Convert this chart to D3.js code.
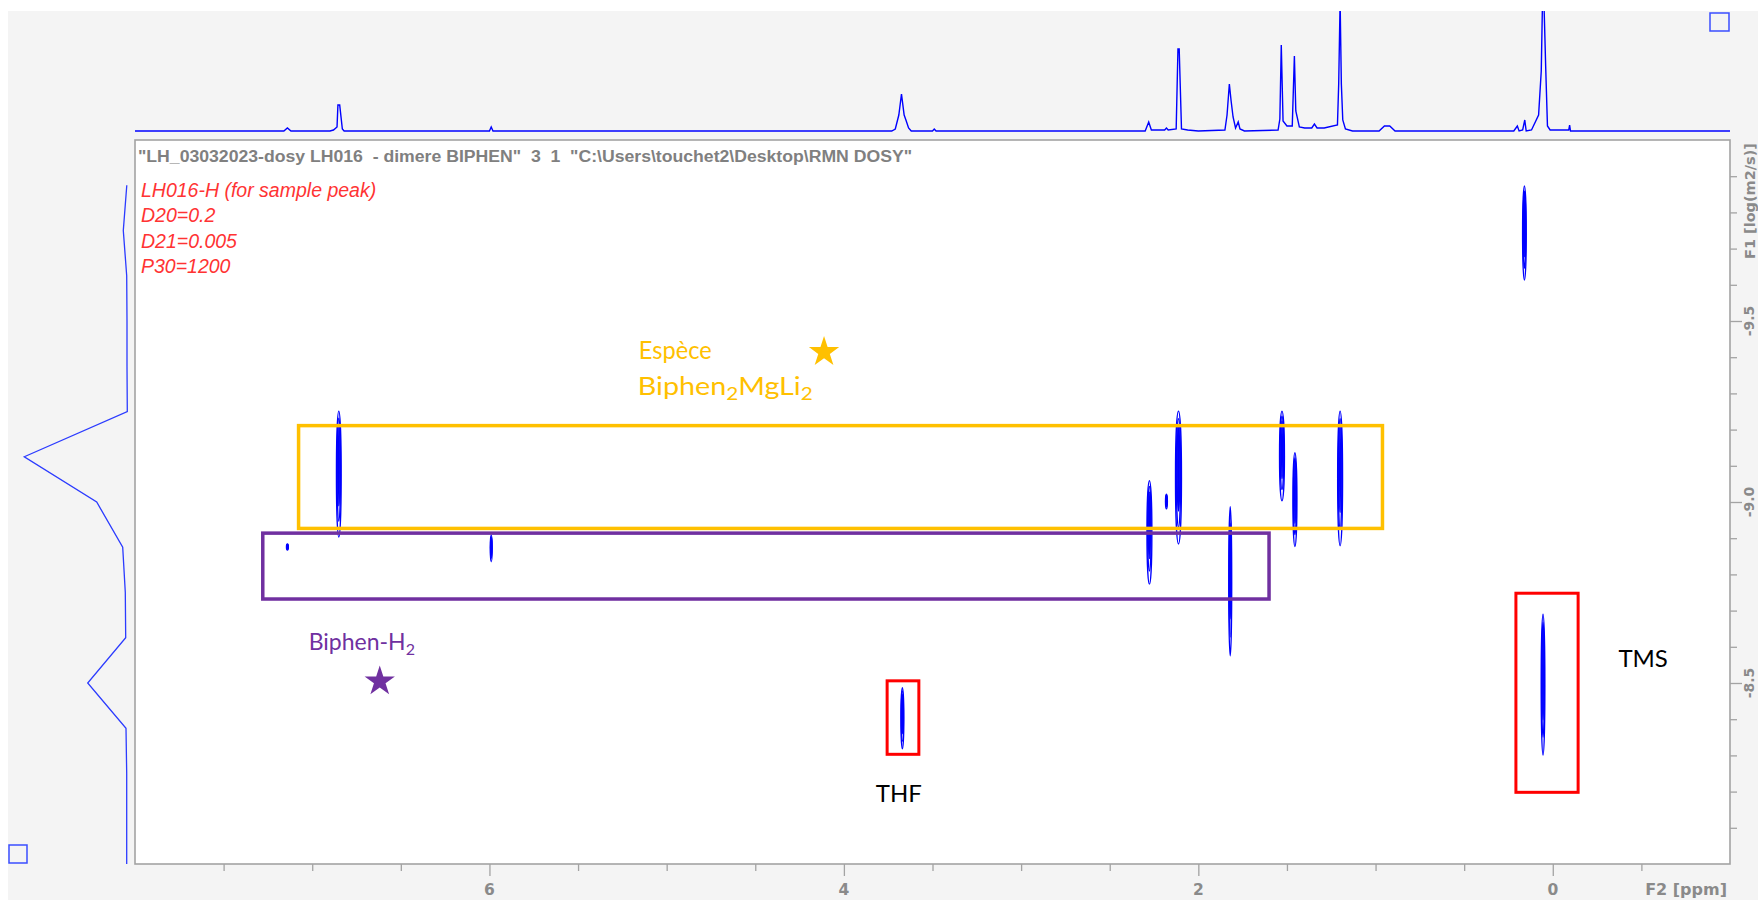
<!DOCTYPE html>
<html>
<head>
<meta charset="utf-8">
<script src="https://cdn.jsdelivr.net/npm/d3@7"></script>
<style>
  body { margin: 0; background: #ffffff; }
  svg { display: block; }
</style>
</head>
<body>
<svg id="chart" width="1758" height="900"></svg>
<script>
// ---------- axes ----------
const f2Domain = [8, -1];            // chemical shift, ppm (reversed)
const f1Domain = [-10, -8];          // log D, log(m2/s)
const f2TickValues = [7.5, 7, 6.5, 6, 5.5, 5, 4.5, 4, 3.5, 3, 2.5, 2, 1.5, 1, 0.5, 0, -0.5];
const f2LabelValues = [6, 4, 2, 0];
const f1TickValues = [-9.9, -9.8, -9.7, -9.6, -9.5, -9.4, -9.3, -9.2, -9.1, -9.0,
                      -8.9, -8.8, -8.7, -8.6, -8.5, -8.4, -8.3, -8.2, -8.1];
const f1LabelValues = [-9.5, -9.0, -8.5];
const f1LabelText = ["-9.5", "-9.0", "-8.5"];

// ---------- 1H projection (top trace) ----------
const protonPpm = [
  8.0, 7.16, 7.14, 7.12, 6.90, 6.88, 6.86, 6.855, 6.845, 6.83, 6.82,
  6.00, 5.99, 5.98,
  3.73, 3.71, 3.69, 3.675, 3.66, 3.65, 3.635, 3.62, 3.50, 3.49, 3.48,
  2.30, 2.28, 2.265, 2.19, 2.18, 2.17, 2.125, 2.115, 2.108, 2.095, 2.06, 2.00,
  1.85, 1.838, 1.825, 1.815, 1.804, 1.79, 1.775, 1.765, 1.74,
  1.55, 1.54, 1.532, 1.522, 1.50, 1.47, 1.458, 1.45, 1.43, 1.40, 1.36, 1.345, 1.33, 1.29,
  1.215, 1.208, 1.200, 1.193, 1.185, 1.17, 1.13,
  0.98, 0.95, 0.92, 0.89,
  0.22, 0.20, 0.19, 0.17, 0.158, 0.15, 0.12, 0.08, 0.065, 0.058, 0.05, 0.04, 0.03, 0.015, 0.0,
  -0.09, -0.095, -0.10, -1.0
];
const protonIntensity = [
  0, 0, 3, 0, 0, 1, 4, 26, 26, 2, 0,
  0, 4, 0,
  0, 2, 16, 37, 16, 11, 3, 0, 0, 2, 0,
  0, 9, 1, 1, 3, 1, 2, 82, 82, 2, 1, 0,
  1, 16, 47, 30, 14, 3, 9, 2, 0,
  1, 12, 86, 10, 5, 5, 75, 20, 4, 3, 3, 7, 3, 3,
  6, 47, 130, 47, 11, 2, 0,
  0, 5, 5, 0,
  0, 5, 0, 1, 11, 0, 1, 16, 60, 130, 130, 64, 5, 1, 1,
  1, 6, 0, 0
];

// ---------- diffusion projection (left trace) ----------
const diffLogD = [-9.875, -9.75, -9.625, -9.5, -9.375, -9.25, -9.125, -9.0,
                  -8.875, -8.75, -8.625, -8.5, -8.375, -8.25, -8.125, -8.0];
const diffIntensity = [0.5, 4, 0.6, 0.3, 0.3, 0, 103, 30.6,
                       4.6, 2, 1.6, 39.6, 1.3, 0.6, 0.6, 0.6];

// ---------- DOSY cross peaks ----------
const peakPpm        = [6.850, 0.160, 2.112, 2.276, 2.180, 1.820, 1.528, 1.455, 1.200, 0.055, 3.670, 5.990, 7.140];
const peakLogDTop    = [-9.251, -9.873, -9.251, -9.059, -9.022, -8.987, -9.251, -9.136, -9.251, -8.690, -8.487, -8.909, -8.884];
const peakLogDBottom = [-8.903, -9.613, -8.884, -8.773, -8.981, -8.575, -9.003, -8.877, -8.879, -8.301, -8.318, -8.835, -8.867];
const peakWidthPpm   = [0.027, 0.021, 0.034, 0.028, 0.011, 0.017, 0.028, 0.023, 0.028, 0.021, 0.017, 0.011, 0.011];
const contourLevels  = [1, 0.72, 0.45];

// ---------- annotations ----------
const boxNames   = ["Biphen2MgLi2", "BiphenH2", "THF", "TMS"];
const boxPpmFrom = [7.077, 7.279, 3.756, 0.208];
const boxPpmTo   = [0.961, 1.601, 3.577, -0.143];
const boxLogDTop = [-9.211, -8.914, -8.506, -8.748];
const boxLogDBot = [-8.927, -8.732, -8.303, -8.198];
const boxColors  = ["#FFC000", "#7030A0", "#FF0000", "#FF0000"];
const boxStroke  = [3.5, 3.5, 3, 3];

const starPpm    = [4.112, 6.619];
const starLogD   = [-9.417, -8.507];
const starColors = ["#FFC000", "#7030A0"];

const paramLines = ["LH016-H (for sample peak)", "D20=0.2", "D21=0.005", "P30=1200"];
const titleText = "\"LH_03032023-dosy LH016  - dimere BIPHEN\"  3  1  \"C:\\Users\\touchet2\\Desktop\\RMN DOSY\"";

// ---------- layout ----------
const W = 1758, H = 900;
const plot = { left: 135, right: 1730, top: 140, bottom: 864 };
const topTrace = { base: 131, top: 11 };
const leftTrace = { base: 127.3 };

const svg = d3.select("#chart");

const x = d3.scaleLinear().domain(f2Domain).range([plot.left, plot.right]);
const y = d3.scaleLinear().domain(f1Domain).range([plot.top, plot.bottom]);
const yTop = d3.scaleLinear().domain([0, 120]).range([topTrace.base, topTrace.top]);
const xLeft = d3.scaleLinear().domain([0, 100]).range([leftTrace.base, leftTrace.base - 100]);

// window background
svg.append("rect").attr("x", 8).attr("y", 11).attr("width", W - 8).attr("height", H - 11)
   .attr("fill", "#f4f4f4");

// clip regions
const defs = svg.append("defs");
defs.append("clipPath").attr("id", "topClip")
  .append("rect").attr("x", plot.left - 2).attr("y", topTrace.top)
  .attr("width", plot.right - plot.left + 4).attr("height", topTrace.base - topTrace.top + 4);
defs.append("clipPath").attr("id", "plotClip")
  .append("rect").attr("x", plot.left).attr("y", plot.top)
  .attr("width", plot.right - plot.left).attr("height", plot.bottom - plot.top);

// top 1H trace
const protonData = protonPpm.map((p, i) => [p, protonIntensity[i]]);
svg.append("path")
  .datum(protonData)
  .attr("clip-path", "url(#topClip)")
  .attr("fill", "none")
  .attr("stroke", "#0000ff")
  .attr("stroke-width", 1.4)
  .attr("d", d3.line().x(d => x(d[0])).y(d => yTop(d[1])));

// left diffusion trace
const diffData = diffLogD.map((v, i) => [v, diffIntensity[i]]);
svg.append("path")
  .datum(diffData)
  .attr("fill", "none")
  .attr("stroke", "#2b3bff")
  .attr("stroke-width", 1.3)
  .attr("d", d3.line().x(d => xLeft(d[1])).y(d => y(d[0])));

// plot frame
svg.append("rect")
  .attr("x", plot.left).attr("y", plot.top)
  .attr("width", plot.right - plot.left).attr("height", plot.bottom - plot.top)
  .attr("fill", "#ffffff").attr("stroke", "#a3a3a3").attr("stroke-width", 1.6);

// small window controls
svg.append("rect").attr("x", 1710).attr("y", 13).attr("width", 19).attr("height", 18)
   .attr("fill", "none").attr("stroke", "#3a4dff").attr("stroke-width", 1.5);
svg.append("rect").attr("x", 9).attr("y", 845).attr("width", 18).attr("height", 18)
   .attr("fill", "none").attr("stroke", "#3a4dff").attr("stroke-width", 1.5);

// title and acquisition parameters
svg.append("text")
  .attr("x", 138).attr("y", 161.5)
  .attr("xml:space", "preserve")
  .style("white-space", "pre")
  .attr("font-family", "'Liberation Sans', Arial, sans-serif")
  .attr("font-weight", "bold").attr("font-size", 16)
  .attr("fill", "#808080")
  .attr("textLength", 774).attr("lengthAdjust", "spacingAndGlyphs")
  .text(titleText);

svg.append("g").selectAll("text").data(paramLines).join("text")
  .attr("x", 141).attr("y", (d, i) => 197 + i * 25.4)
  .attr("font-family", "'Liberation Sans', Arial, sans-serif")
  .attr("font-style", "italic").attr("font-size", 19.5)
  .attr("fill", "#ff3333")
  .text(d => d);

// x axis (F2)
const xAxis = d3.axisBottom(x)
  .tickValues(f2TickValues)
  .tickSize(7)
  .tickFormat(() => "");
const gx = svg.append("g").attr("transform", `translate(0,${plot.bottom})`).call(xAxis);
gx.select(".domain").remove();
gx.selectAll(".tick line").attr("stroke", "#a3a3a3").attr("stroke-width", 1.3)
  .attr("y2", d => f2LabelValues.includes(d) ? 12 : 7);
svg.append("g").selectAll("text").data(f2LabelValues).join("text")
  .attr("x", d => x(d)).attr("y", 895)
  .attr("text-anchor", "middle")
  .attr("font-family", "'DejaVu Sans', sans-serif").attr("font-weight", "bold")
  .attr("font-size", 15.5).attr("fill", "#8a8a8a")
  .text(d => d3.format("d")(d));
svg.append("text")
  .attr("x", 1727).attr("y", 895).attr("text-anchor", "end")
  .attr("font-family", "'DejaVu Sans', sans-serif").attr("font-weight", "bold")
  .attr("font-size", 16).attr("fill", "#8a8a8a")
  .text("F2 [ppm]");

// y axis (F1)
const yAxis = d3.axisRight(y)
  .tickValues(f1TickValues)
  .tickSize(7)
  .tickFormat(() => "");
const gy = svg.append("g").attr("transform", `translate(${plot.right},0)`).call(yAxis);
gy.select(".domain").remove();
gy.selectAll(".tick line").attr("stroke", "#a3a3a3").attr("stroke-width", 1.3)
  .attr("x2", d => f1LabelValues.some(v => Math.abs(v - d) < 1e-9) ? 12 : 7);
svg.append("g").selectAll("text").data(f1LabelValues).join("text")
  .attr("transform", d => `translate(1754,${y(d)}) rotate(-90)`)
  .attr("text-anchor", "middle")
  .attr("font-family", "'DejaVu Sans', sans-serif").attr("font-weight", "bold")
  .attr("font-size", 14).attr("fill", "#8a8a8a")
  .text((d, i) => f1LabelText[i]);
svg.append("text")
  .attr("transform", `translate(1755,143) rotate(-90)`)
  .attr("text-anchor", "end")
  .attr("font-family", "'DejaVu Sans', sans-serif").attr("font-weight", "bold")
  .attr("font-size", 14.5).attr("fill", "#8a8a8a")
  .text("F1 [log(m2/s)]");

// cross peaks drawn as nested contour ellipses
const peaks = peakPpm.map((p, i) => ({
  ppm: p, top: peakLogDTop[i], bot: peakLogDBottom[i], w: peakWidthPpm[i]
}));
const peakG = svg.append("g").attr("clip-path", "url(#plotClip)");
peaks.forEach(pk => {
  const cx = x(pk.ppm);
  const cy = (y(pk.top) + y(pk.bot)) / 2;
  const ry = Math.abs(y(pk.bot) - y(pk.top)) / 2;
  const rx = Math.abs(x(pk.ppm + pk.w / 2) - x(pk.ppm));
  peakG.selectAll(null).data(contourLevels).enter().append("ellipse")
    .attr("cx", cx).attr("cy", d => cy - ry * (1 - d) * 0.25)
    .attr("rx", d => Math.max(0.6, rx * d))
    .attr("ry", d => ry * (0.35 + 0.65 * d))
    .attr("fill", (d, i) => i === contourLevels.length - 1 ? "#0000ff" : "none")
    .attr("stroke", "#0000ff")
    .attr("stroke-width", 1.3);
});

// annotation boxes
svg.append("g").selectAll("rect").data(boxNames).join("rect")
  .attr("x", (d, i) => x(boxPpmFrom[i]))
  .attr("y", (d, i) => y(boxLogDTop[i]))
  .attr("width", (d, i) => x(boxPpmTo[i]) - x(boxPpmFrom[i]))
  .attr("height", (d, i) => y(boxLogDBot[i]) - y(boxLogDTop[i]))
  .attr("fill", "none")
  .attr("stroke", (d, i) => boxColors[i])
  .attr("stroke-width", (d, i) => boxStroke[i]);

// stars
const star = d3.symbol().type(d3.symbolStar).size(285);
svg.append("g").selectAll("path").data(starPpm).join("path")
  .attr("transform", (d, i) => `translate(${x(d)},${y(starLogD[i]) + 1})`)
  .attr("d", star)
  .attr("fill", (d, i) => starColors[i]);

// annotation labels
const labelFont = "Lato, 'Open Sans', sans-serif";
svg.append("text")
  .attr("x", x(5.157)).attr("y", y(-9.395))
  .attr("font-family", labelFont).attr("font-size", 25).attr("fill", "#FFC000")
  .attr("textLength", 73).attr("lengthAdjust", "spacingAndGlyphs")
  .text("Espèce");
const bmg = svg.append("text")
  .attr("x", x(5.163)).attr("y", y(-9.296))
  .attr("font-family", labelFont).attr("font-size", 25).attr("fill", "#FFC000")
  .attr("textLength", 175).attr("lengthAdjust", "spacingAndGlyphs");
bmg.append("tspan").text("Biphen");
bmg.append("tspan").attr("font-size", 18).attr("dy", 5).text("2");
bmg.append("tspan").attr("dy", -5).text("MgLi");
bmg.append("tspan").attr("font-size", 18).attr("dy", 5).text("2");

const bh = svg.append("text")
  .attr("x", x(6.72)).attr("y", y(-8.591)).attr("text-anchor", "middle")
  .attr("font-family", labelFont).attr("font-size", 23).attr("fill", "#7030A0");
bh.append("tspan").text("Biphen-H");
bh.append("tspan").attr("font-size", 16).attr("dy", 5).text("2");

svg.append("text")
  .attr("x", x(3.69)).attr("y", y(-8.172)).attr("text-anchor", "middle")
  .attr("font-family", labelFont).attr("font-size", 24).attr("fill", "#000000")
  .text("THF");
svg.append("text")
  .attr("x", x(-0.51)).attr("y", y(-8.545)).attr("text-anchor", "middle")
  .attr("font-family", labelFont).attr("font-size", 24).attr("fill", "#000000")
  .text("TMS");
</script>
</body>
</html>
